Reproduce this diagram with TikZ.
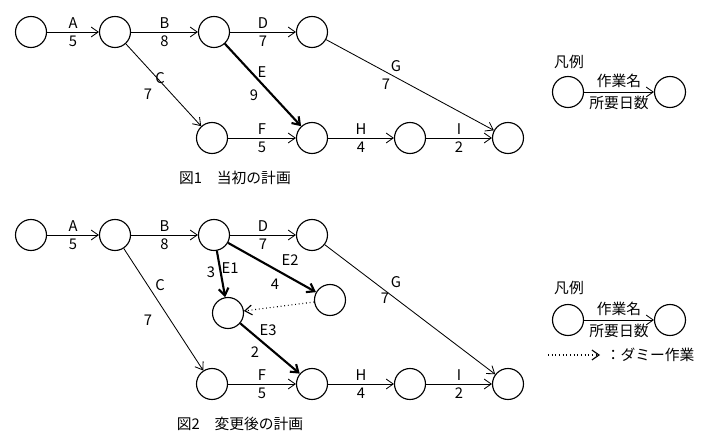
\documentclass[tikz,border=0pt]{standalone}
\usepackage{fontspec}
\setmainfont{Noto Sans CJK JP}
\usetikzlibrary{arrows.meta}
\tikzset{
  ev/.style={circle, draw, thick, minimum size=31*0.025cm, inner sep=0pt},
  act/.style={draw, semithick, -{Straight Barb[length=5pt,width=7pt]}},
  crit/.style={act, line width=1.5pt},
  dummy/.style={act, dotted, thick},
  lbl/.style={font=\fontsize{10.5}{10.5}\selectfont, inner sep=2.5pt}
}
\begin{document}
\begin{tikzpicture}[x=0.025cm, y=-0.025cm]
\useasboundingbox (0,0) rectangle (715,445);

% Figure 1
\node[ev] (a1) at (31,32) {};
\node[ev] (a2) at (115,32) {};
\node[ev] (a3) at (214,32) {};
\node[ev] (a4) at (312,32) {};
\node[ev] (a5) at (212,138) {};
\node[ev] (a6) at (312,138) {};
\node[ev] (a7) at (410,138) {};
\node[ev] (a8) at (508,138) {};

\draw[act] (a1) -- node[lbl, above]{A} node[lbl, below]{5} (a2);
\draw[act] (a2) -- node[lbl, above]{B} node[lbl, below]{8} (a3);
\draw[act] (a3) -- node[lbl, above]{D} node[lbl, below]{7} (a4);
\draw[act] (a2) -- (a5);
\draw[crit] (a3) -- (a6);
\draw[act] (a4) -- (a8);
\draw[act] (a5) -- node[lbl, above]{F} node[lbl, below]{5} (a6);
\draw[act] (a6) -- node[lbl, above]{H} node[lbl, below]{4} (a7);
\draw[act] (a7) -- node[lbl, above]{I} node[lbl, below]{2} (a8);
\node[lbl] (c1) at (160,78) {C};
\node[lbl] (c1d) at (148,94) {7};
\node[lbl] (e1) at (262,72) {E};
\node[lbl] (e1d) at (254,95) {9};
\node[lbl] (g1) at (396,66) {G};
\node[lbl] (g1d) at (386,84) {7};

% legend 1
\node[lbl] (l1) at (569,62) {凡例};
\node[ev] (l1a) at (568,92) {};
\node[ev] (l1b) at (670,92) {};
\draw[act] (l1a) -- node[lbl, above]{作業名} node[lbl, below]{所要日数} (l1b);
\node[lbl] (cap1) at (235,178) {図1\quad 当初の計画};

% Figure 2
\node[ev] (b1) at (31,235) {};
\node[ev] (b2) at (115,235) {};
\node[ev] (b3) at (214,235) {};
\node[ev] (b4) at (312,235) {};
\node[ev] (b9) at (228,313) {};
\node[ev] (b10) at (330,300) {};
\node[ev] (b5) at (212,384) {};
\node[ev] (b6) at (312,384) {};
\node[ev] (b7) at (410,384) {};
\node[ev] (b8) at (508,384) {};

\draw[act] (b1) -- node[lbl, above]{A} node[lbl, below]{5} (b2);
\draw[act] (b2) -- node[lbl, above]{B} node[lbl, below]{8} (b3);
\draw[act] (b3) -- node[lbl, above]{D} node[lbl, below]{7} (b4);
\draw[act] (b2) -- (b5);
\draw[crit] (b3) -- (b9);
\draw[crit] (b3) -- (b10);
\draw[dummy] (b10) -- (b9);
\draw[crit] (b9) -- (b6);
\draw[act] (b4) -- (b8);
\draw[act] (b5) -- node[lbl, above]{F} node[lbl, below]{5} (b6);
\draw[act] (b6) -- node[lbl, above]{H} node[lbl, below]{4} (b7);
\draw[act] (b7) -- node[lbl, above]{I} node[lbl, below]{2} (b8);
\node[lbl] (c2) at (160,285) {C};
\node[lbl] (c2d) at (148,320) {7};
\node[lbl] (e21) at (230,268) {E1};
\node[lbl] (e21d) at (211,272) {3};
\node[lbl] (e22) at (290,260) {E2};
\node[lbl] (e22d) at (275,284) {4};
\node[lbl] (e23) at (268,330) {E3};
\node[lbl] (e23d) at (255,352) {2};
\node[lbl] (g2) at (396,282) {G};
\node[lbl] (g2d) at (385,298) {7};

% legend 2
\node[lbl] (l2) at (569,288) {凡例};
\node[ev] (l2a) at (568,320) {};
\node[ev] (l2b) at (670,320) {};
\draw[act] (l2a) -- node[lbl, above]{作業名} node[lbl, below]{所要日数} (l2b);
\coordinate (d1) at (548,355);
\coordinate (d2) at (600,355);
\draw[dummy] (d1) -- (d2);
\node[lbl, anchor=west] (dl) at (602,355) {：ダミー作業};
\node[lbl] (cap2) at (240,424) {図2\quad 変更後の計画};
\end{tikzpicture}
\end{document}
